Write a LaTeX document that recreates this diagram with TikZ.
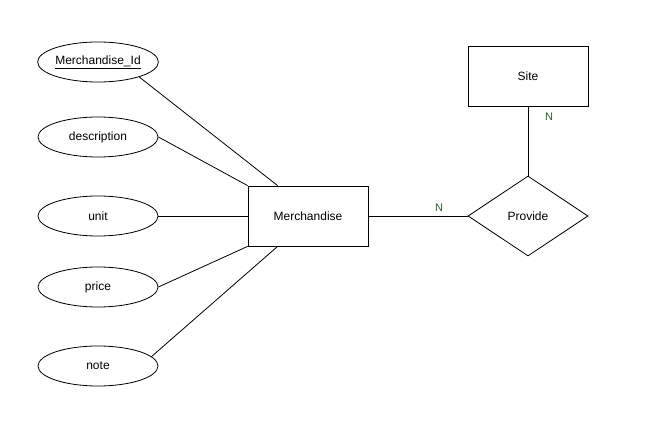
\documentclass[tikz,border=0pt]{standalone}
\usepackage{fontspec}
\setmainfont{Liberation Sans}
\usetikzlibrary{shapes.geometric}
\definecolor{cardgreen}{HTML}{2F5A2F}

\begin{document}
\begin{tikzpicture}[x=1pt,y=-1pt,line width=0.8pt,
                        every node/.style={font=\fontsize{12}{14}\selectfont},
                        attr/.style={draw,ellipse,minimum width=120pt,minimum height=40pt,inner sep=0pt},
                        entity/.style={draw,rectangle,minimum width=120pt,minimum height=60pt,inner sep=0pt},
                        rel/.style={draw,diamond,minimum width=120pt,minimum height=80pt,inner sep=0pt},
                        card/.style={text=cardgreen,font=\fontsize{11}{13}\selectfont}]
                        \useasboundingbox (0,0) rectangle (648,427);
                        \node[attr] (mid) at(98,62) {\underline{Merchandise\_Id}};
                        \node[attr] (desc) at(98,137) {description};
                        \node[attr] (unit) at(98,216) {unit};
                        \node[attr] (price) at(98,287) {price};
                        \node[attr] (note) at(98,366) {note};
                        \node[entity] (merch) at(308,216) {Merchandise};
                        \node[rel] (provide) at(528,216) {Provide};
                        \node[entity] (site) at(528,76) {Site};
                        \draw (mid.-20)--([xshift=30pt]merch.north west);
                        \draw (desc.east)--(merch.north west);
                        \draw (unit.east)--(merch.west);
                        \draw (price.east)--(merch.south west);
                        \draw (note.10)--([xshift=30pt]merch.south west);
                        \draw (merch.east)--(provide.west) node[card] (n1) at(439,208) {N};
                        \draw (site.south)--(provide.north) node[card] (n2) at(549,117) {N};
                    \end{tikzpicture}
\end{document}
